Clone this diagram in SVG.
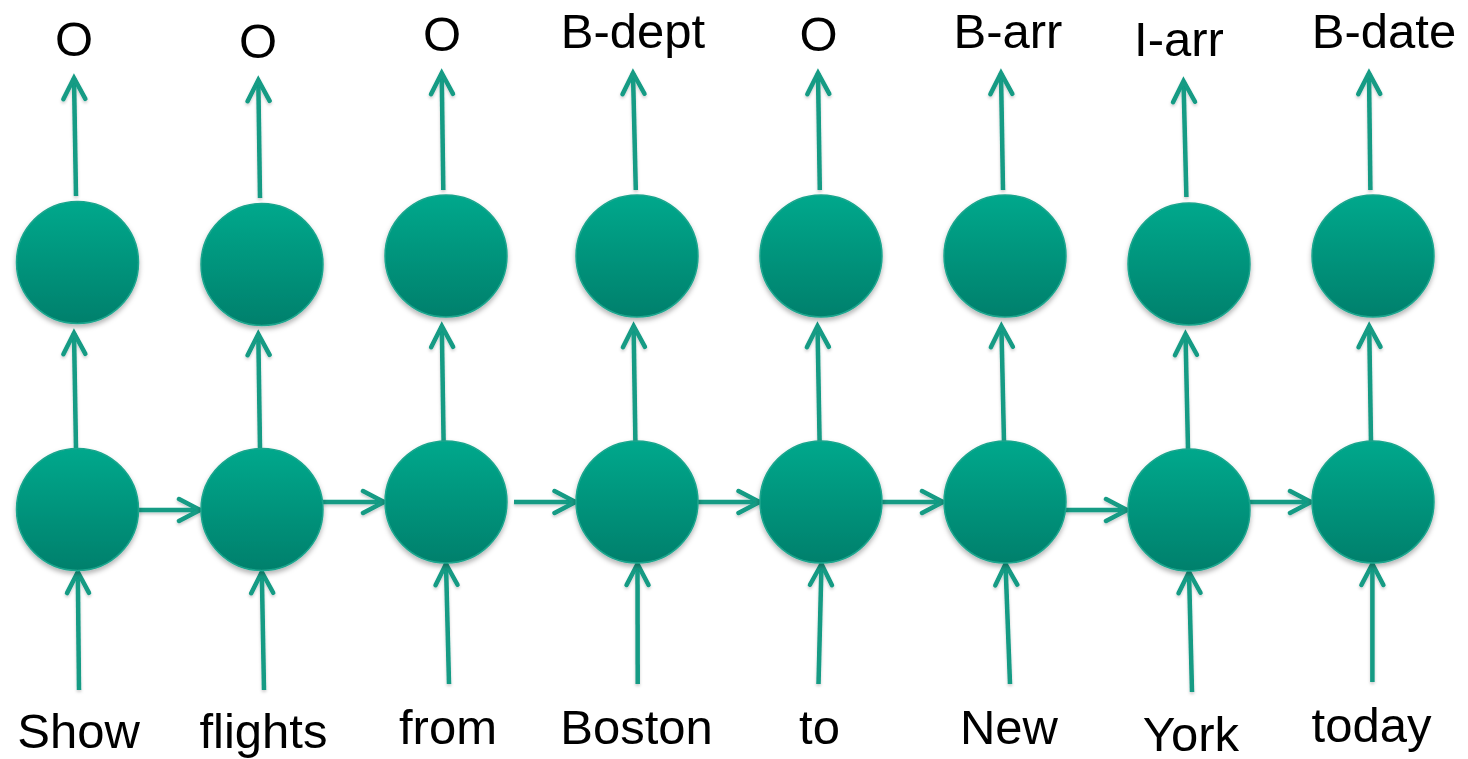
<svg xmlns="http://www.w3.org/2000/svg" width="1468" height="759" viewBox="0 0 1468 759">
<style>
.n{fill:url(#g);stroke:#1aa58d;stroke-width:1.5;filter:url(#sh)}
.c{stroke:#129b84;stroke-width:4.5;fill:none;marker-end:url(#ah)}
text{font-family:"Liberation Sans",Arial,sans-serif;font-size:49px;fill:#000;text-anchor:middle}
</style>
<defs>
<linearGradient id="g" x1="0" y1="0" x2="0" y2="1">
<stop offset="0" stop-color="#00a88c"/>
<stop offset="1" stop-color="#00806c"/>
</linearGradient>
<filter id="sh" x="-20%" y="-20%" width="140%" height="150%">
<feDropShadow dx="0" dy="3" stdDeviation="2.5" flood-color="#000" flood-opacity="0.3"/>
</filter>
<filter id="sh2" filterUnits="userSpaceOnUse" x="0" y="0" width="1468" height="759">
<feDropShadow dx="0" dy="2" stdDeviation="1.5" flood-color="#000" flood-opacity="0.2"/>
</filter>
<marker id="ah" markerUnits="userSpaceOnUse" markerWidth="40" markerHeight="40" refX="0" refY="0" orient="auto" viewBox="-30 -20 40 40" overflow="visible">
<path d="M-21,-11 L0,0 L-21,11" fill="none" stroke="#129b84" stroke-width="4.5" stroke-linecap="round" stroke-linejoin="miter"/>
</marker>
</defs>
<g id="connectors" filter="url(#sh2)">
<path class="c" d="M76,196 L74,78"/>
<path class="c" d="M260,198 L258.3,80"/>
<path class="c" d="M443.3,190 L441.7,73"/>
<path class="c" d="M635.8,190 L633,73"/>
<path class="c" d="M819.8,190 L818,73"/>
<path class="c" d="M1003,190 L1001,73"/>
<path class="c" d="M1186.4,197 L1183.5,81"/>
<path class="c" d="M1370.4,190 L1369,73"/>
<path class="c" d="M76,449 L74,333"/>
<path class="c" d="M260,449 L258.3,334"/>
<path class="c" d="M443.6,442 L441.8,326"/>
<path class="c" d="M635.4,442 L633.6,326"/>
<path class="c" d="M819.6,442 L817.5,326"/>
<path class="c" d="M1004,442 L1001.4,326"/>
<path class="c" d="M1188,449 L1185.5,334"/>
<path class="c" d="M1371,442 L1369.2,326"/>
<path class="c" d="M79,690 L77.8,572"/>
<path class="c" d="M264,690 L261.8,572"/>
<path class="c" d="M449,684 L446,564"/>
<path class="c" d="M637.7,684 L637.5,564"/>
<path class="c" d="M818.5,684 L821.5,564"/>
<path class="c" d="M1010,684 L1005.5,564"/>
<path class="c" d="M1192,692 L1189,572"/>
<path class="c" d="M1372.4,682 L1372.4,564"/>
<path class="c" d="M138,510 L200,510"/>
<path class="c" d="M322,502 L384,502"/>
<path class="c" d="M514,502 L575.5,502"/>
<path class="c" d="M698,502 L759.5,502"/>
<path class="c" d="M882,502 L943,502"/>
<path class="c" d="M1066,510 L1127,510"/>
<path class="c" d="M1250,502 L1311,502"/>
</g>
<g id="node-h1"><circle class="n" cx="77.5" cy="509.5" r="61"/></g>
<g id="node-h2"><circle class="n" cx="262" cy="509.5" r="61"/></g>
<g id="node-h3"><circle class="n" cx="446" cy="502" r="61"/></g>
<g id="node-h4"><circle class="n" cx="637" cy="502" r="61"/></g>
<g id="node-h5"><circle class="n" cx="821" cy="502" r="61"/></g>
<g id="node-h6"><circle class="n" cx="1005" cy="502" r="61"/></g>
<g id="node-h7"><circle class="n" cx="1189" cy="510" r="61"/></g>
<g id="node-h8"><circle class="n" cx="1373" cy="502" r="61"/></g>
<g id="node-o1"><circle class="n" cx="77.5" cy="262.5" r="61"/></g>
<g id="node-o2"><circle class="n" cx="262" cy="264.5" r="61"/></g>
<g id="node-o3"><circle class="n" cx="446" cy="256" r="61"/></g>
<g id="node-o4"><circle class="n" cx="637" cy="256" r="61"/></g>
<g id="node-o5"><circle class="n" cx="821" cy="256" r="61"/></g>
<g id="node-o6"><circle class="n" cx="1005" cy="256" r="61"/></g>
<g id="node-o7"><circle class="n" cx="1189" cy="264" r="61"/></g>
<g id="node-o8"><circle class="n" cx="1373" cy="256" r="61"/></g>
<g id="labels-out">
<text x="74" y="56">O</text>
<text x="258" y="58">O</text>
<text x="442" y="51">O</text>
<text x="633" y="48">B-dept</text>
<text x="818.5" y="51">O</text>
<text x="1008" y="48">B-arr</text>
<text x="1179" y="56">I-arr</text>
<text x="1384" y="48">B-date</text>
</g>
<g id="labels-in">
<text x="78.5" y="748">Show</text>
<text x="263.5" y="748">flights</text>
<text x="448" y="744">from</text>
<text x="636.5" y="744">Boston</text>
<text x="819.5" y="744">to</text>
<text x="1009" y="744">New</text>
<text x="1191" y="751">York</text>
<text x="1371.5" y="742">today</text>
</g>
</svg>
